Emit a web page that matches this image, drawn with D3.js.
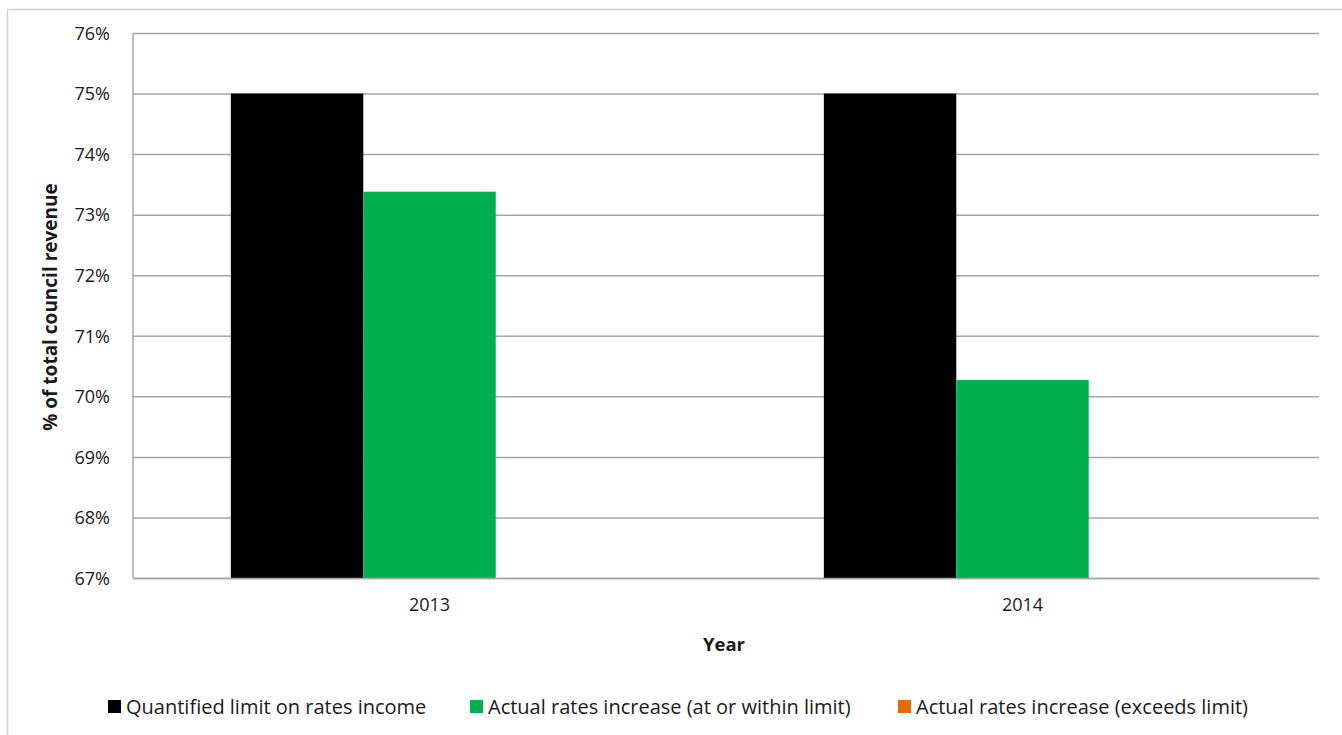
<!DOCTYPE html>
<html>
<head>
<meta charset="utf-8">
<script src="https://cdn.jsdelivr.net/npm/d3@7"></script>
<style>
  body { margin: 0; background: #fff; }
  text { font-family: "Open Sans", "Noto Sans", sans-serif; fill: #1a1a1a; }
</style>
</head>
<body>
<div id="chart"></div>
<script>
// chart data
var years = ["2013", "2014"];
var seriesNames = [
  "Quantified limit on rates income",
  "Actual rates increase (at or within limit)",
  "Actual rates increase (exceeds limit)"
];
var seriesColors = ["#000000", "#00b050", "#e36c09"];
var limitValues = [75, 75];
var withinValues = [73.38, 70.27];
var exceedsValues = [null, null];
var yTicks = [67, 68, 69, 70, 71, 72, 73, 74, 75, 76];

var width = 1342, height = 735;
var margin = { left: 133, top: 33, right: 23, bottom: 157 };
var plotW = width - margin.left - margin.right,
    plotH = height - margin.top - margin.bottom;

var svg = d3.select("#chart").append("svg")
  .attr("width", width)
  .attr("height", height);

// outer frame (only top and left edges show in the picture)
svg.append("path")
  .attr("d", "M7.5," + height + "V9.5H" + width)
  .attr("fill", "none")
  .attr("stroke", "#d0d0d0")
  .attr("stroke-width", 1.5);

var g = svg.append("g")
  .attr("transform", "translate(" + margin.left + "," + margin.top + ")");

var y = d3.scaleLinear()
  .domain([67, 76])
  .range([plotH, 0]);

var x0 = d3.scaleBand()
  .domain(years)
  .range([0, plotW])
  .padding(0);

var groupW = x0.bandwidth() * 0.67;
var x1 = d3.scaleBand()
  .domain(d3.range(seriesNames.length))
  .range([0, groupW]);

//gridlines
g.append("g")
  .attr("class", "grid")
  .call(d3.axisLeft(y).tickValues(yTicks).tickSize(-plotW).tickFormat(""))
  .call(function (sel) {
    sel.select(".domain").remove();
    sel.selectAll("line").attr("stroke", "#a6a6a6").attr("stroke-width", 1.5);
  });

// y tick labels
g.append("g")
  .call(d3.axisLeft(y).tickValues(yTicks).tickSize(0).tickPadding(23)
    .tickFormat(function (d) { return d + "%"; }))
  .call(function (sel) {
    sel.select(".domain").remove();
    sel.selectAll("text").style("font-size", "18px").attr("dy", "0.35em");
  });

var rows = years.map(function (yr, i) {
  return { year: yr, values: [limitValues[i], withinValues[i], exceedsValues[i]] };
});

var groups = g.selectAll(".year")
  .data(rows)
  .enter().append("g")
  .attr("class", "year")
  .attr("transform", function (d) {
    return "translate(" + (x0(d.year) + (x0.bandwidth() - groupW) / 2) + ",0)";
  });

groups.selectAll("rect")
  .data(function (d) {
    return d.values.map(function (v, k) { return { k: k, v: v }; })
      .filter(function (e) { return e.v != null; });
  })
  .enter().append("rect")
  .attr("x", function (d) { return x1(d.k); })
  .attr("width", x1.bandwidth())
  .attr("y", function (d) { return y(d.v); })
  .attr("height", function (d) { return y(67) - y(d.v); })
  .attr("fill", function (d) { return seriesColors[d.k]; });

// axis lines
g.append("line")
  .attr("x1", 0).attr("x2", 0).attr("y1", 0).attr("y2", plotH)
  .attr("stroke", "#a6a6a6").attr("stroke-width", 1.5);

g.append("g")
  .attr("transform", "translate(0," + plotH + ")")
  .call(d3.axisBottom(x0).tickSize(0).tickPadding(20))
  .call(function (sel) {
    sel.select(".domain").attr("stroke", "#a6a6a6").attr("stroke-width", 1.5);
    sel.selectAll("text").style("font-size", "18px");
  });

// axis titles
svg.append("text")
  .attr("x", 724)
  .attr("y", 651)
  .attr("text-anchor", "middle")
  .style("font-size", "18.5px")
  .style("font-weight", "bold")
  .text("Year");

svg.append("text")
  .attr("transform", "translate(57,307) rotate(-90)")
  .attr("text-anchor", "middle")
  .style("font-size", "19px")
  .style("font-weight", "bold")
  .text("% of total council  revenue");

// legend
var legendX = [108, 470, 898];
var legend = svg.selectAll(".legend")
  .data(seriesNames)
  .enter().append("g")
  .attr("class", "legend")
  .attr("transform", function (d, i) { return "translate(" + legendX[i] + ",707)"; });

legend.append("rect")
  .attr("x", 0).attr("y", -7)
  .attr("width", 13).attr("height", 13)
  .attr("fill", function (d, i) { return seriesColors[i]; });

legend.append("text")
  .attr("x", 18)
  .attr("dy", "0.35em")
  .style("font-size", "20px")
  .text(function (d) { return d; });
</script>
</body>
</html>
